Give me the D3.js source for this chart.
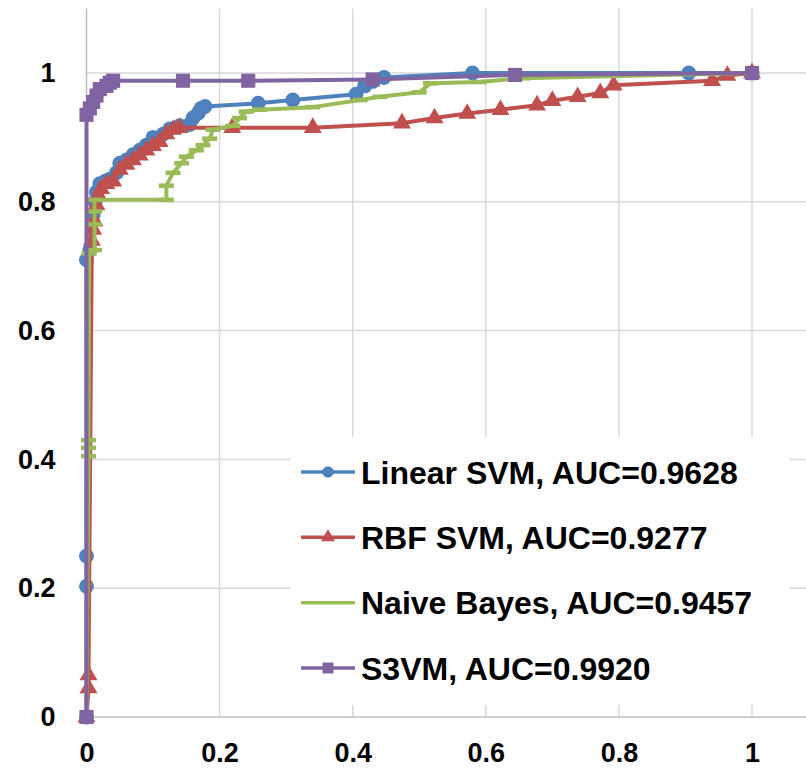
<!DOCTYPE html>
<html>
<head>
<meta charset="utf-8">
<script src="https://cdnjs.cloudflare.com/ajax/libs/d3/7.8.5/d3.min.js"></script>
<style>
  body { margin: 0; background: #fff; }
  svg { display: block; }
  .tick-label { font-family: "Liberation Sans", Arial, sans-serif; font-weight: bold; font-size: 27px; fill: #000; }
  .legend-text { font-family: "Liberation Sans", Arial, sans-serif; font-weight: bold; font-size: 32px; fill: #000; }
</style>
</head>
<body>
<div class="chart"></div>
<script>
// ROC points, [false positive rate, true positive rate]
const linearSVM = [
  [0, 0], [0, 0.203], [0, 0.25], [0, 0.71], [0.005, 0.725], [0.01, 0.78], [0.013, 0.8],
  [0.015, 0.815], [0.02, 0.828], [0.028, 0.832], [0.035, 0.835], [0.045, 0.845], [0.05, 0.86],
  [0.06, 0.865], [0.07, 0.873], [0.08, 0.88], [0.09, 0.888], [0.1, 0.9], [0.115, 0.905],
  [0.125, 0.913], [0.14, 0.918], [0.155, 0.92], [0.16, 0.93], [0.168, 0.938], [0.172, 0.945],
  [0.178, 0.948], [0.258, 0.953], [0.31, 0.958], [0.405, 0.967], [0.418, 0.98], [0.43, 0.987],
  [0.447, 0.993], [0.58, 1.0], [0.905, 1.0], [1, 1]
];
const rbfSVM = [
  [0, 0], [0.003, 0.045], [0.003, 0.065], [0.008, 0.74], [0.01, 0.757], [0.012, 0.77],
  [0.015, 0.795], [0.018, 0.81], [0.022, 0.82], [0.03, 0.828], [0.04, 0.832], [0.05, 0.85],
  [0.06, 0.858], [0.07, 0.865], [0.08, 0.872], [0.09, 0.88], [0.1, 0.887], [0.11, 0.893],
  [0.12, 0.905], [0.13, 0.912], [0.14, 0.915], [0.219, 0.915], [0.34, 0.915], [0.474, 0.922],
  [0.523, 0.93], [0.572, 0.937], [0.622, 0.943], [0.677, 0.95], [0.7, 0.957], [0.738, 0.963],
  [0.772, 0.969], [0.792, 0.981], [0.94, 0.988], [0.963, 0.996], [1, 1]
];
const naiveBayes = [
  [0, 0], [0.003, 0.405], [0.003, 0.418], [0.003, 0.43], [0.004, 0.72], [0.012, 0.725],
  [0.012, 0.765], [0.012, 0.785], [0.012, 0.803], [0.12, 0.803], [0.12, 0.825], [0.13, 0.845],
  [0.143, 0.86], [0.15, 0.87], [0.165, 0.88], [0.175, 0.888], [0.185, 0.898], [0.19, 0.912],
  [0.22, 0.918], [0.23, 0.93], [0.24, 0.94], [0.26, 0.943], [0.34, 0.947], [0.411, 0.958],
  [0.441, 0.963], [0.5, 0.97], [0.517, 0.984], [0.59, 0.986], [0.656, 0.992], [1, 1]
];
const s3vm = [
  [0, 0], [0, 0.935], [0.005, 0.945], [0.01, 0.955], [0.015, 0.965], [0.02, 0.975],
  [0.03, 0.98], [0.035, 0.985], [0.04, 0.988], [0.145, 0.988], [0.243, 0.988],
  [0.43, 0.99], [0.644, 0.997], [1, 1]
];

const seriesNames = ["Linear SVM, AUC=0.9628", "RBF SVM, AUC=0.9277", "Naive Bayes, AUC=0.9457", "S3VM, AUC=0.9920"];
const xTicks = [0, 0.2, 0.4, 0.6, 0.8, 1];
const yTicks = [0, 0.2, 0.4, 0.6, 0.8, 1];

const series = [
  { name: seriesNames[0], pts: linearSVM, color: "#4F81BD", marker: "circle" },
  { name: seriesNames[1], pts: rbfSVM, color: "#C0504D", marker: "triangle" },
  { name: seriesNames[2], pts: naiveBayes, color: "#9BBB59", marker: "dash" },
  { name: seriesNames[3], pts: s3vm, color: "#8064A2", marker: "square" }
];

const W = 806, H = 772;
const plotRight = 806;

const x = d3.scaleLinear().domain([0, 1]).range([86.5, 752]);
const y = d3.scaleLinear().domain([0, 1.1]).range([717, 8.6]);

const svg = d3.select(".chart").append("svg")
    .attr("width", W)
    .attr("height", H);

// grid
svg.append("g").selectAll("line.vg")
    .data(xTicks.slice(1))
  .enter().append("line")
    .attr("x1", d => x(d)).attr("x2", d => x(d))
    .attr("y1", y(1.1)).attr("y2", y(0))
    .attr("stroke", "#D9D9D9").attr("stroke-width", 1.5);

svg.append("g").selectAll("line.hg")
    .data(yTicks.slice(1))
  .enter().append("line")
    .attr("x1", x(0)).attr("x2", plotRight)
    .attr("y1", d => y(d)).attr("y2", d => y(d))
    .attr("stroke", "#D9D9D9").attr("stroke-width", 1.5);

// axes
const xAxis = d3.axisBottom(x).tickValues(xTicks).tickSize(0).tickPadding(26)
    .tickFormat(d => d3.format("")(+d.toFixed(1)));
const yAxis = d3.axisLeft(y).tickValues(yTicks).tickSize(0).tickPadding(31)
    .tickFormat(d => d3.format("")(+d.toFixed(1)));

const gx = svg.append("g").attr("transform", "translate(0," + y(0) + ")").call(xAxis);
gx.select(".domain").remove();
gx.selectAll("text").attr("class", "tick-label").attr("dy", "0.7em");

const gy = svg.append("g").attr("transform", "translate(" + x(0) + ",0)").call(yAxis);
gy.select(".domain").remove();
gy.selectAll("text").attr("class", "tick-label");

svg.append("line")
    .attr("x1", x(0)).attr("x2", plotRight)
    .attr("y1", y(0)).attr("y2", y(0))
    .attr("stroke", "#BFBFBF").attr("stroke-width", 1.5);
svg.append("line")
    .attr("x1", x(0)).attr("x2", x(0))
    .attr("y1", y(1.1)).attr("y2", y(0))
    .attr("stroke", "#BFBFBF").attr("stroke-width", 1.5);

// marker shapes
function markerPath(kind, scale) {
  if (kind === "circle") return d3.symbol(d3.symbolCircle, 175 * scale)();
  if (kind === "triangle") return d3.symbol(d3.symbolTriangle, 140 * scale)();
  if (kind === "square") return d3.symbol(d3.symbolSquare, 200 * scale)();
  const w = 7.5 * Math.sqrt(scale), h = 2.3;
  return "M" + (-w) + "," + (-h) + "H" + w + "V" + h + "H" + (-w) + "Z";
}

const line = d3.line().x(d => x(d[0])).y(d => y(d[1]));

series.forEach(s => {
  const g = svg.append("g");
  g.append("path")
      .datum(s.pts)
      .attr("d", line)
      .attr("fill", "none")
      .attr("stroke", s.color)
      .attr("stroke-width", 4)
      .attr("stroke-linejoin", "round");
  g.selectAll("path.mk")
      .data(s.pts)
    .enter().append("path")
      .attr("transform", d => "translate(" + x(d[0]) + "," + y(d[1]) + ")")
      .attr("d", markerPath(s.marker, 1))
      .attr("fill", s.color);
});

// legend
const legend = svg.append("g");
legend.append("rect")
    .attr("x", 290).attr("y", 437)
    .attr("width", 500).attr("height", 268)
    .attr("fill", "#fff");

const rowY = d3.scalePoint().domain(seriesNames).range([472, 668]);

series.forEach(s => {
  const ly = rowY(s.name);
  legend.append("line")
      .attr("x1", 301).attr("x2", 355)
      .attr("y1", ly).attr("y2", ly)
      .attr("stroke", s.color).attr("stroke-width", 3.5);
  if (s.marker !== "dash") {
    legend.append("path")
        .attr("transform", "translate(328," + ly + ")")
        .attr("d", markerPath(s.marker, 0.6))
        .attr("fill", s.color);
  }
  legend.append("text")
      .attr("class", "legend-text")
      .attr("x", 361).attr("y", ly)
      .attr("dy", "0.36em")
      .text(s.name);
});
</script>
</body>
</html>
